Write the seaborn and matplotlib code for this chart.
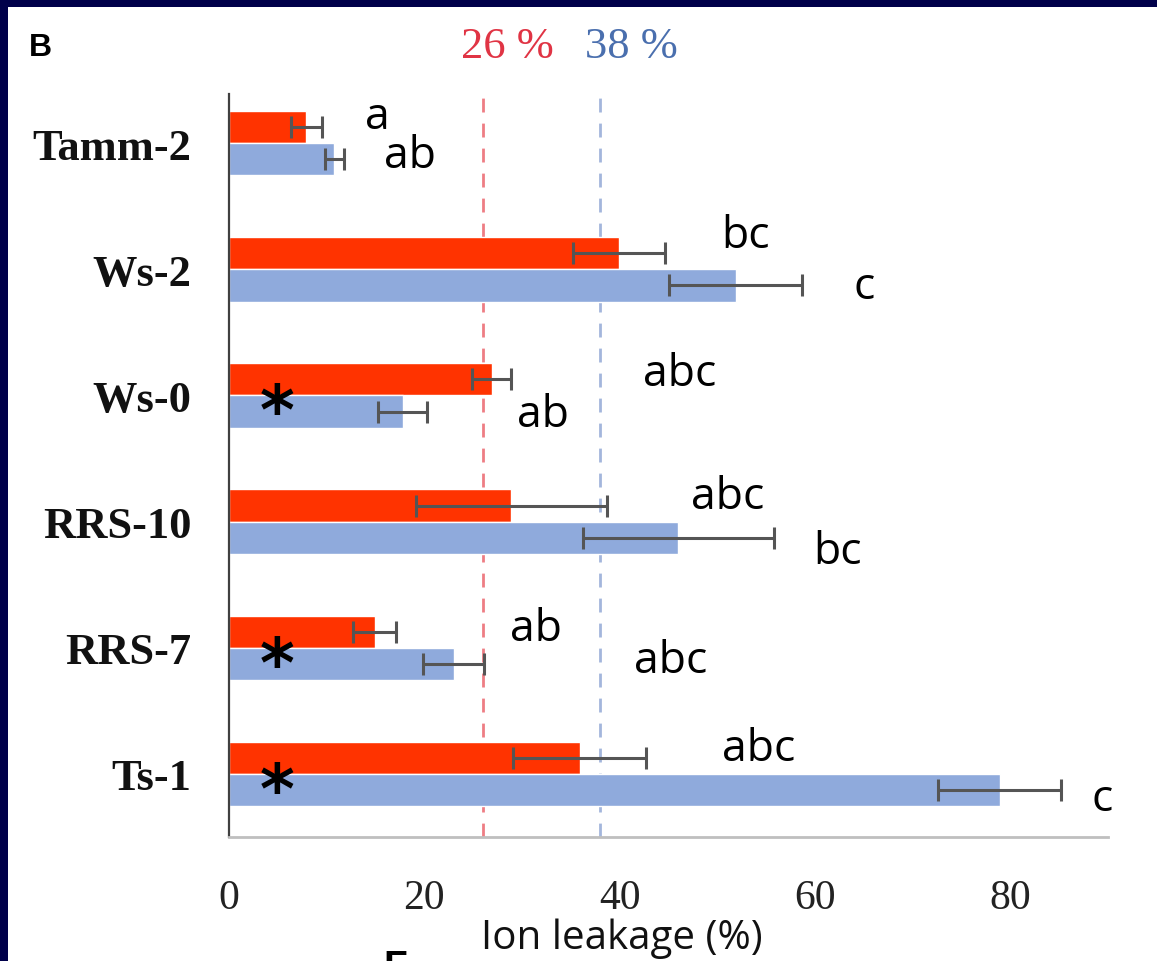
import matplotlib
matplotlib.use("Agg")
import matplotlib.pyplot as plt
import seaborn as sns
import pandas as pd
from matplotlib.patches import Rectangle

# data (ion leakage, %)
accessions = ["Tamm-2", "Ws-2", "Ws-0", "RRS-10", "RRS-7", "Ts-1"]
conditions = ["red", "blue"]
red_mean = [7.9, 39.9, 26.9, 28.9, 14.9, 35.9]
red_err = [1.6, 4.7, 2.0, 9.8, 2.2, 6.8]
blue_mean = [10.8, 51.9, 17.8, 46.0, 23.0, 78.9]
blue_err = [1.0, 6.8, 2.5, 9.8, 3.1, 6.3]
red_letters = ["a", "bc", "abc", "abc", "ab", "abc"]
blue_letters = ["ab", "c", "ab", "bc", "abc", "c"]
starred = ["Ws-0", "RRS-7", "Ts-1"]
ref_lines = [26, 38]
ref_labels = ["26 %", "38 %"]

# where the letters sit (x value, offset from category centre)
red_letter_pos = [(15.2, -0.21), (52.9, -0.27), (46.1, -0.17), (51.1, -0.20), (31.4, -0.15), (54.2, -0.20)]
blue_letter_pos = [(18.5, 0.10), (65.0, 0.14), (32.2, 0.15), (62.3, 0.24), (45.2, 0.10), (89.4, 0.20)]

RED = "#ff3300"
BLUE = "#8faadc"

df = pd.DataFrame({
    "accession": accessions * 2,
    "condition": [conditions[0]] * len(accessions) + [conditions[1]] * len(accessions),
    "leakage": red_mean + blue_mean,
})

sns.set_style("white")
fig = plt.figure(figsize=(11.57, 9.62), dpi=100)
fig.patch.set_facecolor("#00004a")
fig.patches.append(Rectangle((8 / 1157, 0), 1, 1 - 8 / 962, transform=fig.transFigure,
                             facecolor="white", edgecolor="none", zorder=-10))
ax = fig.add_axes([229 / 1157, 1 - 838 / 962, (1108 - 229) / 1157, (838 - 95) / 962])
ax.set_facecolor("none")

sns.barplot(data=df, y="accession", x="leakage", hue="condition", order=accessions,
            hue_order=conditions, palette=[RED, BLUE], saturation=1, orient="h", width=0.51,
            gap=0, errorbar=None, legend=False, ax=ax, zorder=2)

for cont, errs in zip(ax.containers, [red_err, blue_err]):
    ys = [b.get_y() + b.get_height() / 2 for b in cont]
    xs = [b.get_width() for b in cont]
    ax.errorbar(xs, ys, xerr=errs, fmt="none", ecolor="#555555", elinewidth=2.2,
                capsize=8, capthick=2.2, zorder=3)

ax.set_xlim(0, 90)
ax.set_ylim(5.5, -0.39)

for x, col in zip(ref_lines, ["#ee7d84", "#a3b6dc"]):
    ax.axvline(x, color=col, ls=(0, (5, 4)), lw=2, zorder=1)

letter_font = dict(family="Open Sans", fontsize=32, color="black", ha="center", va="center")
for i, (lab, (x, dy)) in enumerate(zip(red_letters, red_letter_pos)):
    ax.text(x, i + dy, lab, **letter_font)
for i, (lab, (x, dy)) in enumerate(zip(blue_letters, blue_letter_pos)):
    ax.text(x, i + dy, lab, **letter_font)

for name in starred:
    i = accessions.index(name)
    ax.text(4.9, i + 0.15, "*", fontsize=48, fontweight="bold", family="DejaVu Sans",
            ha="center", va="center", color="black", zorder=4)

ax.set_yticks(range(len(accessions)))
ax.set_yticklabels(accessions, family="Liberation Serif", fontweight="bold", fontsize=32,
                   color="#111111")
ax.tick_params(axis="y", length=0, pad=27)
ax.set_xticks([0, 20, 40, 60, 80])
ax.tick_params(axis="x", length=10, width=1.2, color="#a6a6a6", direction="out", pad=20,
               labelsize=30)
for t in ax.get_xticklabels():
    t.set_family("Liberation Serif")
    t.set_color("#222222")

ax.set_ylabel("")
ax.set_xlabel("Ion leakage (%)", family="Open Sans", fontsize=29, color="#111111")
ax.xaxis.set_label_coords((622 - 229) / 879, -0.108)

sns.despine(ax=ax)
ax.spines["left"].set_color("#404040")
ax.spines["left"].set_linewidth(1.6)
ax.spines["bottom"].set_color("#bfbfbf")
ax.spines["bottom"].set_linewidth(2)

fig.text(40 / 1157, 1 - 48 / 962, "B", family="Liberation Sans", fontweight="bold",
         fontsize=23, ha="center", va="center", color="black")
for x, lab, col, shift in zip(ref_lines, ref_labels, ["#e03444", "#4a6fae"], [2.5, 3.2]):
    ax.annotate(lab, xy=(x, 0), xycoords=("data", "figure fraction"),
                xytext=(x + shift, 1 - 47 / 962), textcoords=("data", "figure fraction"),
                family="Liberation Serif", fontsize=32, color=col, ha="center", va="center")
fig.text(395 / 1157, -0.006, "F", family="Liberation Sans", fontweight="bold",
         fontsize=28, ha="center", va="center", color="black")

fig.savefig("out.png", dpi=100, facecolor=fig.get_facecolor())
